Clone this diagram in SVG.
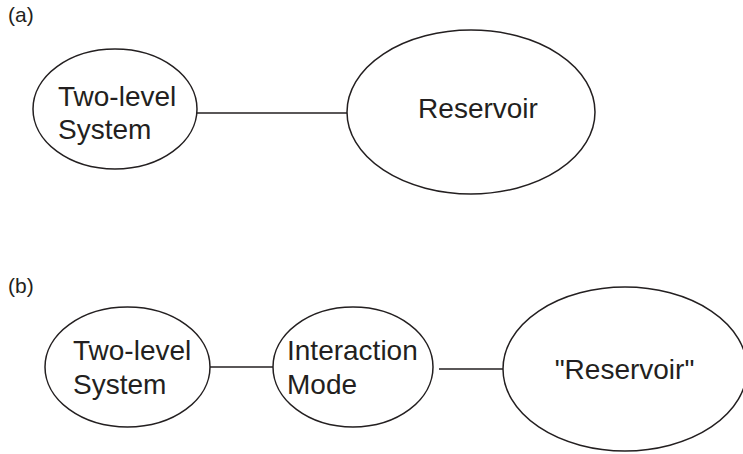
<svg xmlns="http://www.w3.org/2000/svg" width="743" height="454" viewBox="0 0 743 454">
<style>
.n{fill:#fff;stroke:#231f20;stroke-width:1.5}
.c{stroke:#231f20;stroke-width:1.5;fill:none}
.t{font-family:"Liberation Sans",Arial,sans-serif;font-size:28px;fill:#231f20}
.l{font-family:"Liberation Sans",Arial,sans-serif;font-size:21px;fill:#231f20}
</style>
<rect width="743" height="454" fill="#fff"/>
<text class="l" x="8" y="22">(a)</text>
<text class="l" x="8" y="293">(b)</text>
<g id="connectors">
<line class="c" x1="197" y1="113" x2="347" y2="113"/>
<line class="c" x1="210" y1="367" x2="273" y2="367"/>
<line class="c" x1="439" y1="369" x2="503" y2="369"/>
</g>
<g id="a-two-level">
<ellipse class="n" cx="115" cy="109" rx="82" ry="60"/>
<text class="t" x="58" y="106">Two-level</text>
<text class="t" x="58" y="139">System</text>
</g>
<g id="a-reservoir">
<ellipse class="n" cx="471" cy="112" rx="124" ry="82"/>
<text class="t" x="478" y="118" text-anchor="middle">Reservoir</text>
</g>
<g id="b-two-level">
<ellipse class="n" cx="127.5" cy="367" rx="82.5" ry="60"/>
<text class="t" x="73" y="360">Two-level</text>
<text class="t" x="73" y="394">System</text>
</g>
<g id="b-interaction">
<ellipse class="n" cx="353" cy="367" rx="80" ry="60"/>
<text class="t" x="287" y="360">Interaction</text>
<text class="t" x="287" y="394">Mode</text>
</g>
<g id="b-reservoir">
<ellipse class="n" cx="625" cy="369" rx="122" ry="82"/>
<text class="t" x="624.5" y="379" text-anchor="middle">"Reservoir"</text>
</g>
</svg>
